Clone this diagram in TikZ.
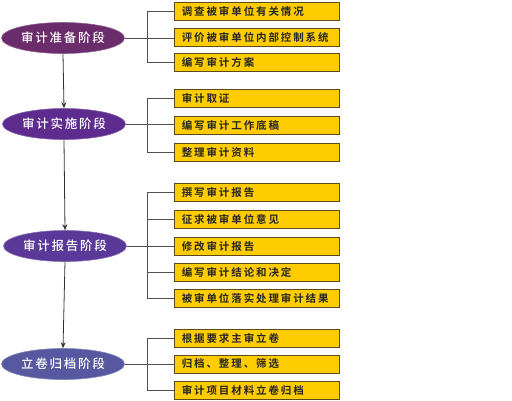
\documentclass[tikz,border=0pt]{standalone}
\usepackage{fontspec}
\newfontfamily\boxfont[LetterSpace=18,BoldFont={Noto Sans CJK SC Bold}]{Noto Sans CJK SC}
\newfontfamily\ellfont[LetterSpace=14]{Noto Sans CJK SC Medium}
\usetikzlibrary{shapes.geometric,arrows.meta}
\definecolor{boxfill}{HTML}{FFCC00}
\definecolor{boxline}{HTML}{5C4A1A}
\definecolor{ellA}{HTML}{6B2C6C}
\definecolor{ellB}{HTML}{5E2C8F}
\definecolor{ellC}{HTML}{5B3999}
\definecolor{ellD}{HTML}{5858A0}
\definecolor{conn}{HTML}{505050}
\tikzset{
  stage/.style={ellipse, minimum width=123pt, minimum height=31pt, inner sep=0pt,
    text=white, font=\ellfont\fontsize{12.5}{13}\selectfont, draw=#1!75!white, line width=0.6pt, fill=#1},
  taskbox/.style={rectangle, minimum width=165pt, minimum height=18pt, inner sep=0pt,
    fill=boxfill, draw=boxline, line width=0.8pt, text=black!85,
    font=\boxfont\bfseries\fontsize{10.5}{11}\selectfont},
  tasktext/.style={anchor=west, inner sep=0pt, text=black!85,
    font=\boxfont\bfseries\fontsize{10.5}{11}\selectfont},
  link/.style={draw=conn, line width=0.8pt},
  flow/.style={draw=black!80, line width=0.8pt, -{Stealth[length=6pt,width=5pt]}}
}
\begin{document}
\begin{tikzpicture}[x=1pt,y=-1pt]
\useasboundingbox (0,0) rectangle (512,400);
% stages
\node[stage=ellA] (s1) at (63,38) {审计准备阶段};
\node[stage=ellB] (s2) at (64,124) {审计实施阶段};
\node[stage=ellC] (s3) at (65,246) {审计报告阶段};
\node[stage=ellD] (s4) at (63,364) {立卷归档阶段};
% boxes
\foreach \n/\y/\t in {a1/11/调查被审单位有关情况, a2/37/评价被审单位内部控制系统, a3/62/编写审计方案,
  b1/98/审计取证, b2/125/编写审计工作底稿, b3/152/整理审计资料,
  c1/192/撰写审计报告, c2/219/征求被审单位意见, c3/246/修改审计报告, c4/272/编写审计结论和决定, c5/298/被审单位落实处理审计结果,
  d1/338/根据要求主审立卷, d2/364/归档、整理、筛选, d3/390/审计项目材料立卷归档}{
  \node[taskbox] (\n) at (256.5,\y) {};
  \node[tasktext] (\n t) at ([xshift=8pt]\n.west) {\t};
}
% brackets
\draw[link] (a1.west) -- ++(-26,0) |- (a3.west);
\draw[link] (s1.east) -- (s1.east -| a2.west);
\draw[link] (b1.west) -- ++(-26,0) |- (b3.west);
\draw[link] (s2.east) -- (s2.east -| b2.west);
\draw[link] (c1.west) -- ++(-26,0) |- (c5.west);
\draw[link] (c2.west) -- ++(-26,0);
\draw[link] (c4.west) -- ++(-26,0);
\draw[link] (s3.east) -- (s3.east -| c3.west);
\draw[link] (d1.west) -- ++(-26,0) |- (d3.west);
\draw[link] (s4.east) -- (s4.east -| d2.west);
% flow arrows
\draw[flow] (s1.south) -- (s2.north);
\draw[flow] (s2.south) -- (s3.north);
\draw[flow] (s3.south) -- (s4.north);
\end{tikzpicture}
\end{document}
